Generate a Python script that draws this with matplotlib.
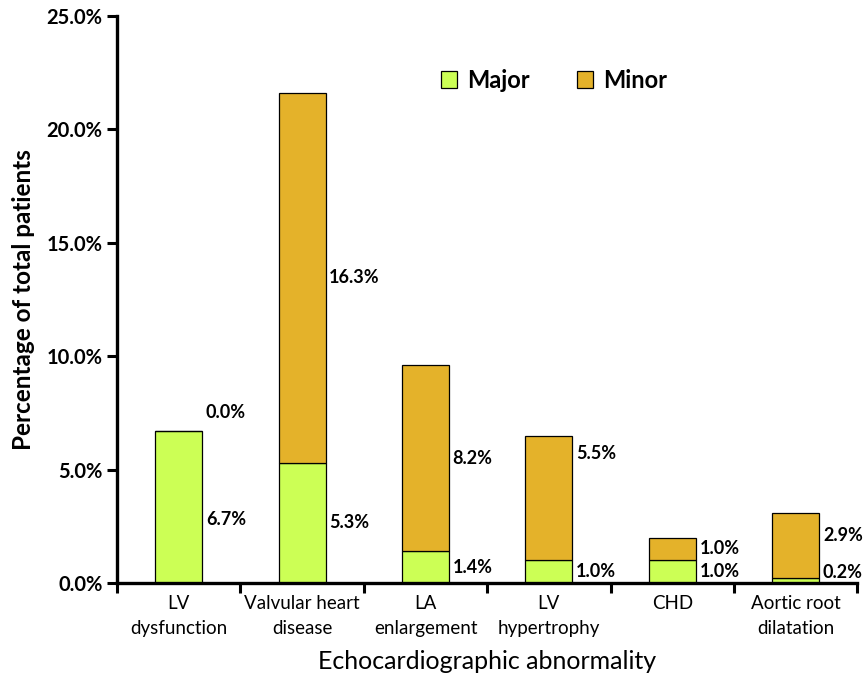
import matplotlib
matplotlib.use("Agg")
import matplotlib.pyplot as plt
import numpy as np

categories = ["LV\ndysfunction", "Valvular heart\ndisease", "LA\nenlargement",
              "LV\nhypertrophy", "CHD", "Aortic root\ndilatation"]
major = [6.7, 5.3, 1.4, 1.0, 1.0, 0.2]
minor = [0.0, 16.3, 8.2, 5.5, 1.0, 2.9]

plt.rcParams['font.family'] = ['Lato', 'DejaVu Sans']

fig = plt.figure(figsize=(8.64, 6.84), dpi=100)
ax = fig.add_axes([0.1354, 0.1477, 0.857, 0.829])

x = np.arange(len(categories))
w = 0.38
ax.bar(x, major, w, color='#CCFF55', edgecolor='black', linewidth=0.9, label='Major', zorder=2)
ax.bar(x, minor, w, bottom=major, color='#E4B22A', edgecolor='black', linewidth=0.9, label='Minor', zorder=2)

# value labels to the right of each segment
for i in x:
    ym = max(major[i] / 2, 0.45)
    if i == 0:
        ym = 2.8
    ax.text(i + w / 2 + 0.03, ym, f"{major[i]:.1f}%", ha='left', va='center',
            fontsize=13, fontweight='bold')
    if minor[i] == 0:
        yn = major[i] + 0.8
    else:
        yn = major[i] + minor[i] / 2
        if i == 3:
            yn = 5.7
        if i == 5:
            yn = 2.1
    ax.text(i + w / 2 + 0.03, yn, f"{minor[i]:.1f}%", ha='left', va='center',
            fontsize=13, fontweight='bold')

ax.set_xlim(-0.5, len(categories) - 0.5)
ax.set_ylim(0, 25)
ax.set_yticks(np.arange(0, 26, 5))
ax.set_yticklabels([f"{v:.1f}%" for v in np.arange(0, 26, 5)], fontsize=14.5, fontweight='bold')
ax.set_xticks(x)
ax.set_xticklabels(categories, fontsize=13.5, linespacing=1.55)
ax.set_xticks(np.arange(-0.5, len(categories)), minor=True)
ax.tick_params(axis='x', which='major', length=0, pad=9)
ax.tick_params(axis='x', which='minor', length=7, width=2.2, direction='out')
ax.tick_params(axis='y', length=7, width=2.2, direction='out')

for s in ['top', 'right']:
    ax.spines[s].set_visible(False)
for s in ['left', 'bottom']:
    ax.spines[s].set_linewidth(2.4)

ax.set_ylabel("Percentage of total patients", fontsize=17.5, fontweight='bold', labelpad=8)
ax.set_xlabel("Echocardiographic abnormality", fontsize=18, labelpad=9)

ax.legend(loc='center', bbox_to_anchor=(0.59, 0.887), ncol=2, frameon=False,
          prop={'weight': 'bold', 'size': 17}, handlelength=0.7,
          handleheight=0.7, columnspacing=2.0, handletextpad=0.4)

fig.savefig("out.png", dpi=100)
